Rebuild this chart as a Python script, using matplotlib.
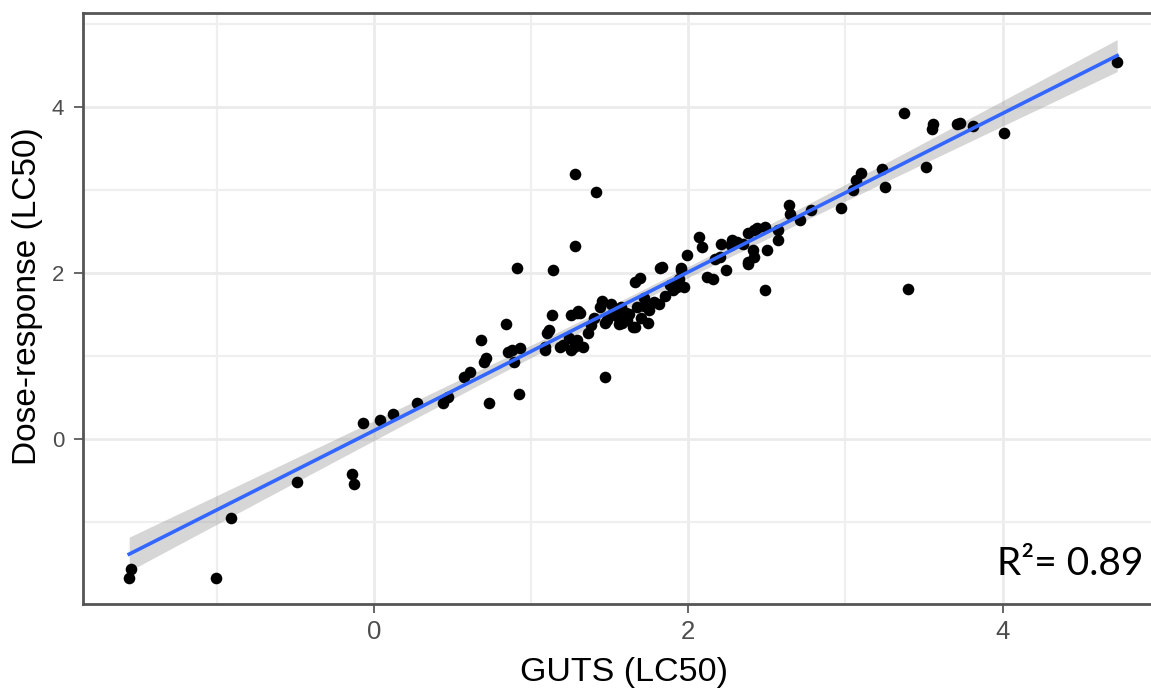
import numpy as np
import matplotlib
matplotlib.use("Agg")
import matplotlib.pyplot as plt
from matplotlib.ticker import FixedLocator

# GUTS-predicted LC50 (x) versus dose-response LC50 (y), log scale
guts_lc50 = [
    -1.56, -1.55, -1.01, -0.91, -0.49, -0.14, -0.13, -0.07, 0.04, 0.12,
    0.27, 0.44, 0.47, 0.57, 0.61, 0.68, 0.71, 0.70, 0.73, 0.84,
    0.85, 0.88, 0.89, 0.92, 0.93, 0.91,
    1.09, 1.11, 1.13, 1.14, 1.10, 1.09, 1.18, 1.25, 1.31, 1.29,
    1.25, 1.33, 1.36, 1.20, 1.27, 1.24, 1.30, 1.29, 1.28, 1.28,
    1.41, 1.44, 1.48, 1.55, 1.61, 1.65, 1.67, 1.57, 1.47, 1.45,
    1.51, 1.38, 1.47, 1.51, 1.30, 1.69, 1.66, 1.81, 1.82, 1.83,
    1.95, 1.99, 1.95, 1.94, 1.90, 1.97, 1.93, 1.66, 1.75, 1.72,
    1.60, 1.53, 1.40, 1.58, 1.62, 1.70, 1.72, 1.78, 1.85, 1.88,
    1.56, 1.74,
    2.07, 2.09, 2.12, 2.16, 2.17, 2.24, 2.20, 2.21, 2.27, 2.28,
    2.31, 2.35, 2.38, 2.42, 2.44, 2.49, 2.41, 2.38, 2.42, 2.38,
    2.50, 2.49, 2.57, 2.57, 2.64, 2.65, 2.71, 2.78, 2.97,
    3.05, 3.07, 3.10, 3.23, 3.25, 3.37, 3.40, 3.51, 3.55, 3.56,
    3.71, 3.73, 3.81, 4.01, 4.73,
]
dose_response_lc50 = [
    -1.68, -1.57, -1.68, -0.95, -0.52, -0.42, -0.54, 0.19, 0.23, 0.30,
    0.43, 0.43, 0.50, 0.75, 0.81, 1.19, 0.97, 0.93, 0.43, 1.38,
    1.05, 1.07, 0.93, 0.54, 1.09, 2.06,
    1.11, 1.31, 1.49, 2.03, 1.27, 1.07, 1.11, 1.49, 1.52, 1.19,
    1.07, 1.11, 1.27, 1.13, 1.11, 1.21, 1.13, 1.51, 3.19, 2.32,
    2.97, 1.59, 1.43, 1.47, 1.43, 1.35, 1.59, 1.59, 0.75, 1.66,
    1.62, 1.37, 1.39, 1.49, 1.54, 1.94, 1.89, 1.62, 2.06, 2.07,
    2.06, 2.22, 2.03, 1.93, 1.79, 1.83, 1.83, 1.35, 1.55, 1.70,
    1.52, 1.55, 1.45, 1.40, 1.50, 1.45, 1.60, 1.65, 1.72, 1.85,
    1.38, 1.40,
    2.43, 2.31, 1.95, 1.92, 2.17, 2.03, 2.19, 2.35, 2.34, 2.39,
    2.37, 2.35, 2.48, 2.51, 2.54, 2.55, 2.28, 2.13, 2.19, 2.11,
    2.27, 1.79, 2.51, 2.40, 2.82, 2.71, 2.64, 2.76, 2.78,
    3.00, 3.12, 3.20, 3.25, 3.03, 3.92, 1.81, 3.27, 3.73, 3.79,
    3.79, 3.81, 3.77, 3.68, 4.54,
]
r_squared_label = "R\u00b2= 0.89"

x_major = [0, 2, 4]
y_major = [0, 2, 4]
x_minor = [-1, 1, 3, 5]
y_minor = [-1, 1, 3, 5]

x = np.asarray(guts_lc50)
y = np.asarray(dose_response_lc50)

# Linear fit with a 95% confidence band (as in geom_smooth(method = "lm"))
slope, intercept = np.polyfit(x, y, 1)
n = len(x)
resid = y - (slope * x + intercept)
s = np.sqrt(np.sum(resid ** 2) / (n - 2))
sxx = np.sum((x - x.mean()) ** 2)
t95 = 1.978
xs = np.linspace(x.min(), x.max(), 200)
ys = slope * xs + intercept
se = s * np.sqrt(1.0 / n + (xs - x.mean()) ** 2 / sxx)

W, H = 1151, 688
fig = plt.figure(figsize=(W / 100, H / 100), dpi=100)
left, right, top, bottom = 83, 1169, 13, 604
ax = fig.add_axes([left / W, 1 - bottom / H, (right - left) / W, (bottom - top) / H])

ax.set_xlim(-1.854, 5.06)
ax.set_ylim(-1.99, 5.13)

ax.xaxis.set_major_locator(FixedLocator(x_major))
ax.yaxis.set_major_locator(FixedLocator(y_major))
ax.xaxis.set_minor_locator(FixedLocator(x_minor))
ax.yaxis.set_minor_locator(FixedLocator(y_minor))
ax.grid(which="major", color="#EBEBEB", linewidth=2.0, zorder=0)
ax.grid(which="minor", color="#EFEFEF", linewidth=1.6, zorder=0)
ax.set_axisbelow(True)
ax.tick_params(which="minor", length=0)
ax.tick_params(which="major", direction="out", length=6.5, width=1.2,
               color="#4D4D4D")
ax.tick_params(axis="x", which="major", labelsize=18.5, labelcolor="#4D4D4D", pad=5)
ax.tick_params(axis="y", which="major", labelsize=16, labelcolor="#4D4D4D", pad=7)
for lab in ax.get_xticklabels() + ax.get_yticklabels():
    lab.set_family("Liberation Sans")
for sp in ax.spines.values():
    sp.set_color("#555555")
    sp.set_linewidth(2.0)

ax.fill_between(xs, ys - t95 * se, ys + t95 * se, color="#999999", alpha=0.4,
                linewidth=0, zorder=2)
ax.scatter(x, y, s=70, color="black", linewidths=0, zorder=3)
ax.plot(xs, ys, color="#3366FF", linewidth=2.6, zorder=4)

fig.text(624 / W, 1 - 672 / H, "GUTS (LC50)", ha="center", va="center",
         fontsize=24.5, family="Liberation Sans", color="black")
fig.text(28 / W, 1 - 296 / H, "Dose-response (LC50)", ha="center", va="center",
         rotation=90, fontsize=24, family="Liberation Sans", color="black")
fig.text(1143 / W, 1 - 575 / H, r_squared_label, ha="right", va="baseline",
         fontsize=28, family="Lato", color="black")

fig.savefig("out.png", dpi=100)
